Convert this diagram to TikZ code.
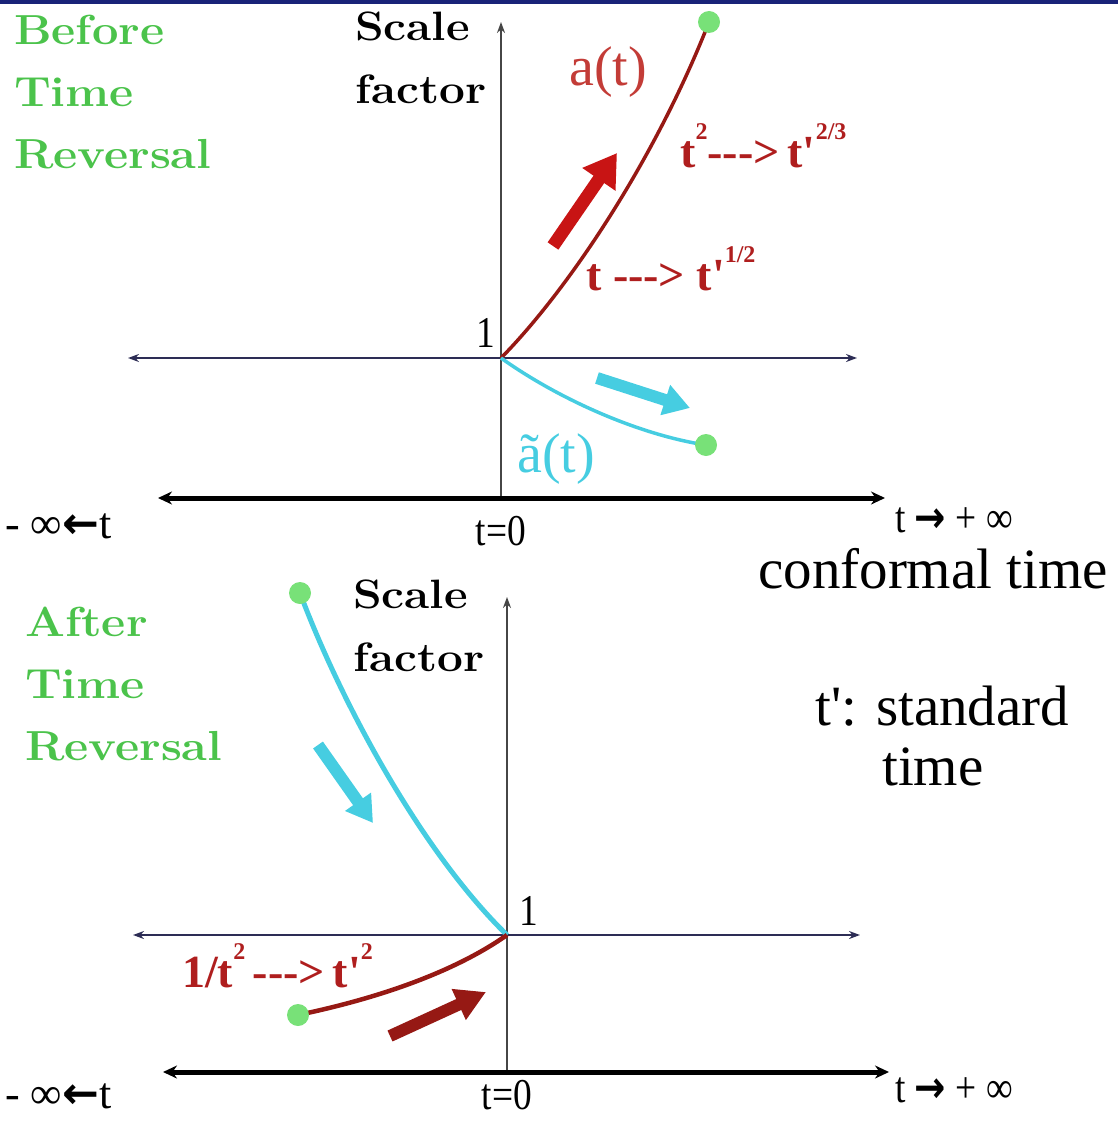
\documentclass[tikz,border=0pt]{standalone}
\usepackage{fontspec}
\usepackage{graphicx}
\usetikzlibrary{arrows.meta}

\newfontfamily\timesfont{Liberation Serif}
\newfontfamily\arrowfont{DejaVu Sans}

\definecolor{navybar}{RGB}{25,35,120}
\definecolor{axisnavy}{RGB}{45,45,85}
\definecolor{axisgray}{RGB}{70,70,70}
\definecolor{darkred}{RGB}{150,25,20}
\definecolor{labelred}{RGB}{175,30,30}
\definecolor{softred}{RGB}{195,60,55}
\definecolor{arrowred}{RGB}{200,20,20}
\definecolor{skycyan}{RGB}{70,205,225}
\definecolor{dotgreen}{RGB}{120,225,120}
\definecolor{titlegreen}{RGB}{75,195,75}

\newcommand{\widen}[1]{\scalebox{1.12}[1]{#1}}
\newcommand{\narrow}[1]{\scalebox{0.85}[1]{#1}}
\newcommand{\upper}[1]{\raisebox{0.6em}{\fontsize{24}{24}\selectfont #1}}

\tikzset{
  thinaxis/.style={axisnavy,line width=1.8pt,-{Stealth[length=11pt,width=8pt]}},
  vaxis/.style={axisgray,line width=2pt,-{Stealth[length=11pt,width=8pt]}},
  timeaxis/.style={black,line width=5pt,{Stealth[length=14pt,width=13pt]}-{Stealth[length=14pt,width=13pt]}},
  redcurve/.style={darkred,line width=3.5pt},
  cyancurve/.style={skycyan,line width=3.5pt},
  fatred/.style={arrowred,line width=13pt,-{Triangle[length=32pt,width=38pt]}},
  fatcyan/.style={skycyan,line width=12pt,-{Triangle[length=26pt,width=30pt]}},
  greendot/.style={dotgreen},
  titletext/.style={anchor=base west,inner sep=0pt,text=titlegreen,font=\fontsize{42}{62}\selectfont\bfseries\addfontfeatures{FakeBold=1}},
  axislabel/.style={anchor=base west,inner sep=0pt,font=\fontsize{41}{63}\selectfont\bfseries\addfontfeatures{FakeBold=1}},
  lawlabel/.style={anchor=base west,inner sep=0pt,text=labelred,font=\fontsize{46}{46}\selectfont\timesfont\bfseries},
  curvelabel/.style={anchor=base west,inner sep=0pt,font=\fontsize{56}{56}\selectfont\timesfont},
  timelabel/.style={inner sep=0pt,font=\fontsize{44}{44}\selectfont\timesfont},
  bigtext/.style={anchor=base west,inner sep=0pt,font=\fontsize{57}{60}\selectfont\timesfont}
}

\begin{document}
\begin{tikzpicture}[x=1pt,y=-1pt]
  \useasboundingbox (0,0) rectangle (1118,1121);
  \fill[navybar] (0,0) rectangle (1118,4);

  % before time reversal
  \coordinate (O1) at (501,358);
  \coordinate (L1) at (128,358);
  \coordinate (R1) at (857,358);
  \coordinate (B1) at (501,498);
  \coordinate (T1) at (501,22);
  \coordinate (tl1) at (158,498);
  \coordinate (tr1) at (885,498);
  \coordinate (dotA) at (709,22);
  \coordinate (dotB) at (706,445);

  \draw[thinaxis] (O1) -- (L1);
  \draw[thinaxis] (O1) -- (R1);
  \draw[vaxis] (B1) -- (T1);
  \draw[timeaxis] (tl1) -- (tr1);

  \draw[redcurve] (O1) .. controls (568,290) and (655,160) .. (dotA);
  \draw[cyancurve] (O1) .. controls (560,400) and (640,435) .. (dotB);
  \fill[greendot] (dotA) circle (11);
  \fill[greendot] (dotB) circle (11);

  \coordinate (ra1) at (553,246);
  \coordinate (ra2) at (617,153);
  \coordinate (ca1) at (597,378);
  \coordinate (ca2) at (690,408);
  \draw[fatred] (ra1) -- (ra2);
  \draw[fatcyan] (ca1) -- (ca2);

  \node[titletext] (before) at (14,45) {\widen{\begin{tabular}[t]{@{}l@{}}Before\\Time\\Reversal\end{tabular}}};
  \node[axislabel] (scale1) at (355,41) {\widen{\begin{tabular}[t]{@{}l@{}}Scale\\factor\end{tabular}}};
  \node[curvelabel,text=softred] (at) at (569,86) {a(t)};
  \node[curvelabel,text=skycyan] (att) at (517,472) {ã(t)};
  \node[lawlabel] (lawB) at (680,167) {t\upper{2}-{}-{}->\hspace{8pt}t'\upper{2/3}};
  \node[lawlabel] (lawA) at (586,290) {t -{}-{}-> t'\upper{1/2}};
  \node[timelabel,anchor=base west] (one1) at (476,347) {\narrow{1}};

  \node[timelabel,anchor=base west] (minf1) at (5,538) {- ∞{\arrowfont\bfseries ←}t};
  \node[timelabel,anchor=base] (zero1) at (501,545) {\narrow{t=0}};
  \node[timelabel,anchor=base west] (pinf1) at (895,532) {\narrow{t {\arrowfont\bfseries →} + ∞}};
  \node[bigtext] (conf) at (758,588) {conformal time};

  % after time reversal
  \coordinate (O2) at (507,935);
  \coordinate (L2) at (133,935);
  \coordinate (R2) at (860,935);
  \coordinate (B2) at (507,1075);
  \coordinate (T2) at (507,597);
  \coordinate (tl2) at (163,1072);
  \coordinate (tr2) at (889,1072);
  \coordinate (dotC) at (300,593);
  \coordinate (dotD) at (298,1015);

  \draw[thinaxis] (O2) -- (L2);
  \draw[thinaxis] (O2) -- (R2);
  \draw[vaxis] (B2) -- (T2);
  \draw[timeaxis] (tl2) -- (tr2);

  \draw[cyancurve,line width=5pt] (dotC) .. controls (340,700) and (420,850) .. (O2);
  \draw[redcurve,line width=4.5pt] (dotD) .. controls (370,1000) and (450,975) .. (O2);
  \fill[greendot] (dotC) circle (11);
  \fill[greendot] (dotD) circle (11);

  \coordinate (cb1) at (318,745);
  \coordinate (cb2) at (373,823);
  \coordinate (rb1) at (390,1036);
  \coordinate (rb2) at (486,992);
  \draw[fatcyan] (cb1) -- (cb2);
  \draw[fatred,darkred,line width=12pt,-{Triangle[length=30pt,width=32pt]}] (rb1) -- (rb2);

  \node[titletext] (after) at (25,636) {\widen{\begin{tabular}[t]{@{}l@{}}After\\Time\\Reversal\end{tabular}}};
  \node[axislabel] (scale2) at (353,608) {\widen{\begin{tabular}[t]{@{}l@{}}Scale\\factor\end{tabular}}};
  \node[lawlabel] (lawC) at (182,987) {1/t\upper{2}\,-{}-{}->\,t'\upper{2}};
  \node[timelabel,anchor=base west] (one2) at (519,925) {\narrow{1}};
  \node[bigtext] (tstd) at (815,725) {t': standard};
  \node[bigtext] (tstd2) at (882,785) {time};

  \node[timelabel,anchor=base west] (minf2) at (5,1108) {- ∞{\arrowfont\bfseries ←}t};
  \node[timelabel,anchor=base] (zero2) at (507,1109) {\narrow{t=0}};
  \node[timelabel,anchor=base west] (pinf2) at (895,1102) {\narrow{t {\arrowfont\bfseries →} + ∞}};
\end{tikzpicture}
\end{document}
